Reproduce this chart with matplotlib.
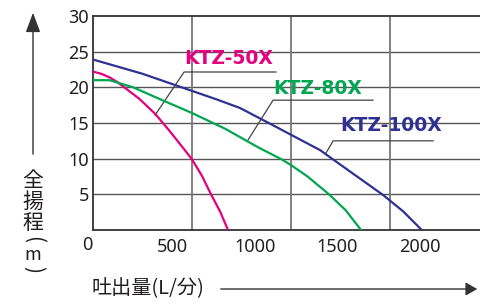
import matplotlib
matplotlib.use("Agg")
import matplotlib.pyplot as plt
from matplotlib.patches import FancyArrowPatch
from matplotlib.transforms import ScaledTranslation

# pump curves: flow (L/min) vs total head (m)
flow_50 = [0, 50, 100, 150, 184, 280, 376, 460, 553, 600, 660, 715, 770, 818]
head_50 = [22.2, 21.9, 21.4, 20.7, 20.1, 18.4, 16.3, 14.0, 11.3, 9.9, 7.6, 5.0, 2.6, 0]

flow_80 = [0, 100, 244, 400, 600, 800, 1000, 1143, 1200, 1300, 1430, 1530, 1624]
head_80 = [21.0, 21.0, 20.0, 18.4, 16.4, 14.2, 11.6, 9.9, 9.1, 7.5, 5.0, 2.8, 0]

flow_100 = [0, 150, 300, 450, 600, 750, 891, 1065, 1220, 1376, 1448, 1600, 1758, 1880, 1992]
head_100 = [23.9, 22.9, 21.9, 20.7, 19.5, 18.3, 17.1, 15.0, 13.1, 11.2, 10.0, 7.5, 4.9, 2.6, 0]

names = ["KTZ-50X", "KTZ-80X", "KTZ-100X"]
colors = ["#e4007f", "#00a650", "#2e3192"]

x_ticks = [500, 1000, 1500, 2000]
y_ticks = [5, 10, 15, 20, 25, 30]
x_grid = [600, 1200, 1800]

W, H = 480, 303
fig = plt.figure(figsize=(W / 100, H / 100), dpi=100)
ax = fig.add_axes([93 / W, 73 / H, 387 / W, 214 / H])
ax.set_xlim(0, 2345)
ax.set_ylim(0, 30)

for y in y_ticks[:-1]:
    ax.axhline(y, color="#555555", lw=1.0, zorder=1)
for x in x_grid:
    ax.axvline(x, color="#777777", lw=1.3, zorder=1)

ax.plot(flow_50, head_50, color=colors[0], lw=1.6, zorder=3)
ax.plot(flow_80, head_80, color=colors[1], lw=1.6, zorder=3)
ax.plot(flow_100, head_100, color=colors[2], lw=1.6, zorder=3)

for s in ["left", "bottom", "top"]:
    ax.spines[s].set_color("#333333")
    ax.spines[s].set_linewidth(1.3)
ax.spines["right"].set_visible(False)

num_font = "Noto Sans"
ax.set_xticks(x_ticks)
ax.set_xticklabels([str(v) for v in x_ticks], fontsize=13, family=num_font, color="#231f20")
ax.set_yticks(y_ticks)
ax.set_yticklabels([str(v) for v in y_ticks], fontsize=13, family=num_font, color="#231f20")
ax.tick_params(axis="x", length=0, pad=6)
ax.tick_params(axis="y", length=0, pad=3)
for lab in ax.get_xticklabels():
    lab.set_transform(lab.get_transform() + ScaledTranslation(-3 / 100, 0, fig.dpi_scale_trans))
ax.text(-36, 0, "0", fontsize=13, family=num_font, color="#231f20",
        ha="center", va="top", transform=ax.transData
        + ScaledTranslation(0, -6 / 100, fig.dpi_scale_trans))

# curve labels with underline and leader line
label_pos = [(552, 24.1), (1091, 19.9), (1497, 14.7)]
underline = [(552, 1109, 22.15), (1091, 1697, 18.2), (1455, 2061, 12.5)]
leader_end = [(376, 16.1), (939, 12.6), (1412, 10.8)]
for name, c, (tx, ty), (u0, u1, uy), (lx, ly) in zip(names, colors, label_pos, underline, leader_end):
    ax.text(tx, ty, name, color=c, fontsize=13.5, fontweight="bold",
            family="DejaVu Sans", ha="left", va="center", zorder=4)
    ax.plot([lx, u0, u1], [ly, uy, uy], color="#444444", lw=0.9, zorder=2)

# axis titles with arrows
cjk = ["Noto Sans CJK JP", "DejaVu Sans"]
ylab_chars = [("全", 0, 15), ("揚", 0, 15), ("程", 0, 15),
              ("(", -90, 15), ("m", 0, 13), (")", -90, 15)]
ylab_y = [181, 202, 223, 240, 254.5, 270]
for (ch, rot, fs), yy in zip(ylab_chars, ylab_y):
    fig.text(33 / W, 1 - yy / H, ch, family=cjk, fontsize=fs, rotation=rot,
             ha="center", va="center", color="#231f20")
fig.text(92 / W, 1 - 289 / H, "吐出量(L/分)", family=cjk, fontsize=14.5,
         ha="left", va="center", color="#231f20")

up = FancyArrowPatch((33 / W, 1 - 157 / H), (33 / W, 1 - 10 / H),
                     transform=fig.transFigure, arrowstyle="-|>,head_length=1.2,head_width=0.45",
                     mutation_scale=10, color="#333333", lw=1.0)
right = FancyArrowPatch((218 / W, 1 - 289 / H), (480 / W, 1 - 289 / H),
                        transform=fig.transFigure, arrowstyle="-|>,head_length=0.7,head_width=0.4",
                        mutation_scale=10, color="#333333", lw=1.0)
fig.add_artist(up)
fig.add_artist(right)

fig.savefig("out.png", dpi=100)
